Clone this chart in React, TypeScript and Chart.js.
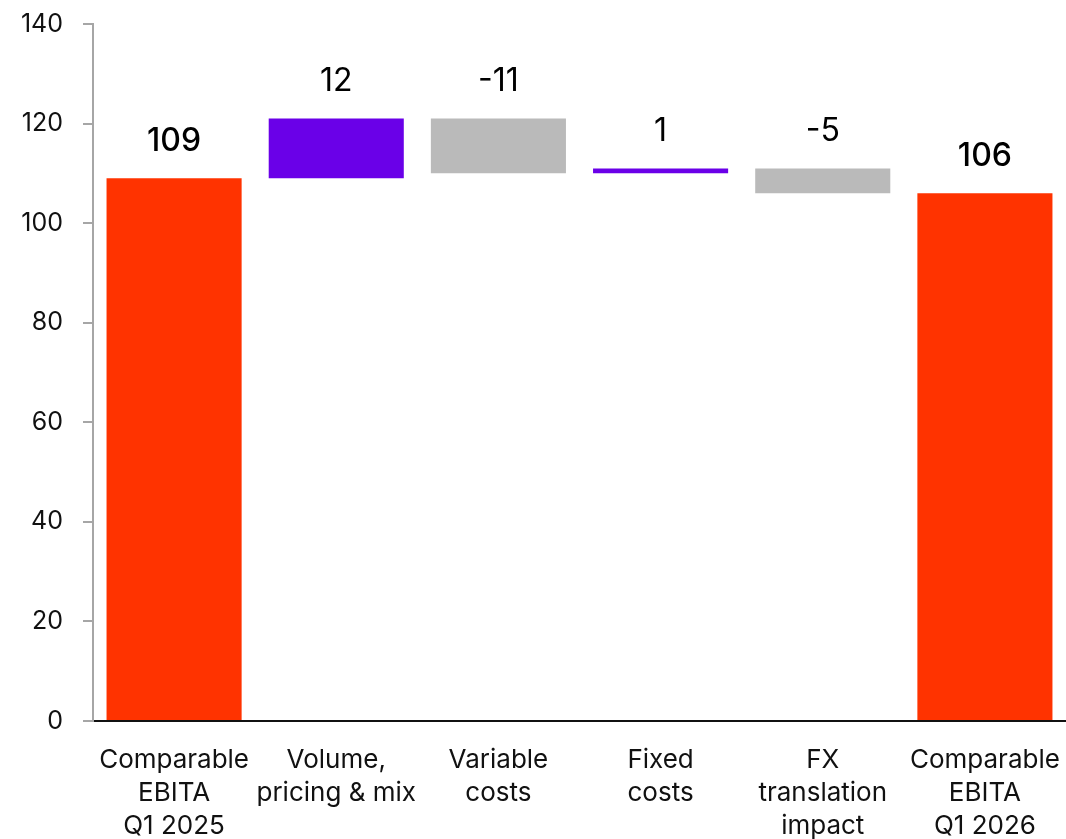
import React, { useEffect, useRef } from "react";
import { Chart, registerables } from "chart.js";

Chart.register(...registerables);

// Bridge categories (multi-line labels)
const categories: string[][] = [
  ["Comparable", "EBITA", "Q1 2025"],
  ["Volume,", "pricing & mix"],
  ["Variable", "costs"],
  ["Fixed", "costs"],
  ["FX", "translation", "impact"],
  ["Comparable", "EBITA", "Q1 2026"],
];

// Start/end totals and the movements in between
const values: number[] = [109, 12, -11, 1, -5, 106];
const isTotal: boolean[] = [true, false, false, false, false, true];

const yTicks = { min: 0, max: 140, step: 20 };

const COLOR_TOTAL = "#ff3300";
const COLOR_UP = "#6a00e8";
const COLOR_DOWN = "#bababa";
const FONT = "Inter, 'Open Sans', sans-serif";

// Floating [low, high] ranges for the waterfall
function buildRanges(): [number, number][] {
  const out: [number, number][] = [];
  let running = 0;
  values.forEach((v, i) => {
    if (isTotal[i]) {
      running = v;
      out.push([0, v]);
    } else {
      const next = running + v;
      out.push([Math.min(running, next), Math.max(running, next)]);
      running = next;
    }
  });
  return out;
}

function barColors(): string[] {
  return values.map((v, i) => (isTotal[i] ? COLOR_TOTAL : v >= 0 ? COLOR_UP : COLOR_DOWN));
}

const valueLabels = {
  id: "valueLabels",
  afterDatasetsDraw(chart: any) {
    const ctx = chart.ctx;
    const meta = chart.getDatasetMeta(0);
    ctx.save();
    ctx.fillStyle = "#000000";
    ctx.textAlign = "center";
    ctx.textBaseline = "middle";
    meta.data.forEach((el: any, i: number) => {
      const top = Math.min(el.y, el.base);
      const total = isTotal[i];
      ctx.font = `${total ? 500 : 400} 32px ${FONT}`;
      const txt = values[i] < 0 ? `-${Math.abs(values[i])}` : `${values[i]}`;
      ctx.fillText(txt, el.x, top - 37);
    });
    ctx.restore();
  },
};

export default function App() {
  const canvasRef = useRef<HTMLCanvasElement | null>(null);

  useEffect(() => {
    document.body.style.margin = "0";
    const canvas = canvasRef.current;
    if (!canvas) return;
    const chart = new Chart(canvas, {
      type: "bar",
      data: {
        labels: categories,
        datasets: [
          {
            data: buildRanges() as any,
            backgroundColor: barColors(),
            borderWidth: 0,
            borderSkipped: false,
            barPercentage: 0.833,
            categoryPercentage: 1,
          },
        ],
      },
      options: {
        animation: false,
        responsive: true,
        maintainAspectRatio: false,
        layout: { padding: { top: 24, right: 0, left: 0, bottom: 0 } },
        plugins: {
          legend: { display: false },
          tooltip: { enabled: false },
        },
        scales: {
          x: {
            grid: { display: false },
            border: { display: true, color: "#111111", width: 2 },
            ticks: {
              color: "#111111",
              font: { family: FONT, size: 26, lineHeight: 1.27 },
              padding: 15,
              maxRotation: 0,
              autoSkip: false,
            },
            afterFit(scale: any) {
              scale.height = 118;
              scale.paddingLeft = 0;
              scale.paddingRight = 0;
            },
          },
          y: {
            min: yTicks.min,
            max: yTicks.max,
            grid: {
              display: true,
              drawOnChartArea: false,
              drawTicks: true,
              tickLength: 10,
              color: "#a6a6a6",
              lineWidth: 2,
            },
            border: { display: true, color: "#a6a6a6", width: 2 },
            ticks: {
              stepSize: yTicks.step,
              color: "#111111",
              font: { family: FONT, size: 25 },
              padding: 20,
            },
            afterFit(scale: any) {
              scale.width = 93;
              scale.paddingTop = 0;
              scale.paddingBottom = 0;
            },
          },
        },
      },
      plugins: [valueLabels],
    });
    return () => chart.destroy();
  }, []);

  return (
    <div style={{ position: "relative", width: 1066, height: 839 }}>
      <canvas ref={canvasRef} />
    </div>
  );
}
